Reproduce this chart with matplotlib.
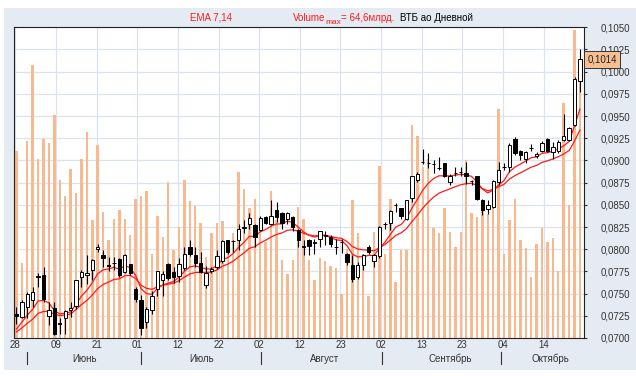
import matplotlib
matplotlib.use("Agg")
import matplotlib.pyplot as plt
import matplotlib.transforms as mtransforms
import matplotlib.patches as mpatches
import numpy as np

plt.rcParams['font.family'] = ['Liberation Sans', 'DejaVu Sans']

# ---------------- data ----------------
opens = [0.0727, 0.0724, 0.0735, 0.0743, 0.0769, 0.0771, 0.0725, 0.0734, 0.0717, 0.0723,
         0.0732, 0.0736, 0.0769, 0.0771, 0.0777, 0.0800, 0.0793, 0.0782, 0.0785, 0.0789,
         0.0774, 0.0783, 0.0755, 0.0743, 0.0718, 0.0732, 0.0755, 0.0765, 0.0783, 0.0774,
         0.0770, 0.0779, 0.0803, 0.0793, 0.0785, 0.0760, 0.0775, 0.0780, 0.0787, 0.0810,
         0.0809, 0.0810, 0.0824, 0.0828, 0.0827, 0.0822, 0.0836, 0.0828, 0.0844, 0.0841,
         0.0834, 0.0836, 0.0822, 0.0804, 0.0810, 0.0807, 0.0812, 0.0815, 0.0814, 0.0803,
         0.0808, 0.0795, 0.0782, 0.0769, 0.0782, 0.0803, 0.0787, 0.0792, 0.0828, 0.0829,
         0.0850, 0.0846, 0.0834, 0.0858, 0.0878, 0.0898, 0.0897, 0.0896, 0.0892, 0.0897,
         0.0876, 0.0886, 0.0887, 0.0886, 0.0877, 0.0882, 0.0855, 0.0845, 0.0848, 0.0876,
         0.0893, 0.0893, 0.0924, 0.0911, 0.0902, 0.0914, 0.0905, 0.0911, 0.0924, 0.0910,
         0.0911, 0.0923, 0.0923, 0.0940, 0.0990]
highs = [0.0735, 0.0743, 0.0752, 0.0758, 0.0773, 0.0780, 0.0740, 0.0740, 0.0722, 0.0731,
         0.0741, 0.0765, 0.0777, 0.0793, 0.0789, 0.0806, 0.0799, 0.0791, 0.0791, 0.0790,
         0.0795, 0.0783, 0.0758, 0.0748, 0.0735, 0.0753, 0.0776, 0.0776, 0.0784, 0.0780,
         0.0790, 0.0803, 0.0810, 0.0803, 0.0797, 0.0781, 0.0780, 0.0799, 0.0810, 0.0810,
         0.0810, 0.0828, 0.0833, 0.0841, 0.0828, 0.0837, 0.0837, 0.0855, 0.0853, 0.0842,
         0.0842, 0.0837, 0.0823, 0.0810, 0.0812, 0.0812, 0.0820, 0.0820, 0.0816, 0.0812,
         0.0812, 0.0796, 0.0793, 0.0786, 0.0795, 0.0805, 0.0795, 0.0826, 0.0831, 0.0844,
         0.0852, 0.0847, 0.0855, 0.0883, 0.0887, 0.0913, 0.0908, 0.0901, 0.0904, 0.0897,
         0.0885, 0.0893, 0.0893, 0.0898, 0.0878, 0.0883, 0.0857, 0.0856, 0.0878, 0.0898,
         0.0897, 0.0920, 0.0926, 0.0912, 0.0911, 0.0918, 0.0910, 0.0922, 0.0925, 0.0921,
         0.0923, 0.0952, 0.0938, 0.0994, 0.1026]
lows = [0.0716, 0.0722, 0.0722, 0.0735, 0.0758, 0.0741, 0.0715, 0.0703, 0.0705, 0.0705,
        0.0724, 0.0733, 0.0758, 0.0761, 0.0765, 0.0797, 0.0780, 0.0776, 0.0777, 0.0769,
        0.0773, 0.0771, 0.0741, 0.0703, 0.0711, 0.0727, 0.0747, 0.0747, 0.0765, 0.0762,
        0.0763, 0.0777, 0.0792, 0.0780, 0.0773, 0.0756, 0.0773, 0.0778, 0.0784, 0.0795,
        0.0797, 0.0799, 0.0818, 0.0823, 0.0803, 0.0821, 0.0828, 0.0827, 0.0831, 0.0823,
        0.0828, 0.0821, 0.0803, 0.0793, 0.0793, 0.0795, 0.0803, 0.0805, 0.0803, 0.0795,
        0.0796, 0.0782, 0.0763, 0.0767, 0.0777, 0.0795, 0.0780, 0.0790, 0.0823, 0.0822,
        0.0842, 0.0834, 0.0833, 0.0853, 0.0876, 0.0896, 0.0891, 0.0886, 0.0889, 0.0881,
        0.0872, 0.0882, 0.0882, 0.0874, 0.0872, 0.0855, 0.0838, 0.0840, 0.0847, 0.0872,
        0.0889, 0.0887, 0.0906, 0.0901, 0.0897, 0.0911, 0.0903, 0.0910, 0.0909, 0.0902,
        0.0908, 0.0922, 0.0922, 0.0939, 0.0977]
closes = [0.0725, 0.0741, 0.0750, 0.0752, 0.0770, 0.0744, 0.0731, 0.0705, 0.0716, 0.0730,
          0.0734, 0.0765, 0.0774, 0.0773, 0.0788, 0.0803, 0.0790, 0.0781, 0.0785, 0.0771,
          0.0793, 0.0773, 0.0744, 0.0711, 0.0733, 0.0747, 0.0775, 0.0772, 0.0768, 0.0769,
          0.0783, 0.0795, 0.0795, 0.0785, 0.0774, 0.0773, 0.0778, 0.0792, 0.0809, 0.0797,
          0.0809, 0.0823, 0.0825, 0.0835, 0.0814, 0.0835, 0.0830, 0.0837, 0.0836, 0.0829,
          0.0841, 0.0825, 0.0810, 0.0803, 0.0804, 0.0808, 0.0820, 0.0816, 0.0806, 0.0803,
          0.0808, 0.0786, 0.0766, 0.0782, 0.0793, 0.0797, 0.0793, 0.0825, 0.0828, 0.0843,
          0.0850, 0.0837, 0.0855, 0.0882, 0.0885, 0.0898, 0.0897, 0.0896, 0.0892, 0.0882,
          0.0883, 0.0886, 0.0887, 0.0882, 0.0877, 0.0857, 0.0844, 0.0850, 0.0877, 0.0889,
          0.0893, 0.0917, 0.0908, 0.0906, 0.0910, 0.0914, 0.0907, 0.0920, 0.0911, 0.0915,
          0.0921, 0.0927, 0.0936, 0.0992, 0.1014]
volumes_bln = [39.2, 15.8, 41.3, 57.3, 37.5, 41.7, 40.9, 46.7, 33.1, 29.7,
               35.4, 30.3, 37.5, 43.1, 24.7, 40.5, 26.4, 20.5, 25.0, 26.9,
               25.0, 21.6, 29.2, 29.7, 30.9, 17.5, 25.5, 21.2, 32.7, 18.4,
               23.3, 33.1, 28.8, 27.6, 24.0, 17.0, 21.9, 24.2, 24.6, 20.5,
               21.9, 34.8, 31.3, 27.2, 29.2, 23.9, 20.2, 30.9, 24.7, 16.3,
               13.4, 16.3, 27.4, 24.9, 16.3, 12.1, 16.7, 16.2, 15.1, 14.6,
               9.2, 18.6, 28.9, 21.9, 17.7, 8.8, 22.3, 36.0, 17.7, 29.1,
               11.8, 18.4, 18.4, 44.7, 42.3, 35.9, 37.6, 23.0, 21.9, 27.2,
               22.3, 19.1, 22.3, 37.3, 26.2, 25.4, 26.8, 26.0, 27.2, 47.9,
               17.5, 24.7, 29.1, 20.5, 18.9, 12.7, 19.8, 23.0, 20.2, 21.0,
               14.0, 49.3, 27.9, 64.6, 56.0]
# EMA values in force just before the first visible bar
ema_seed = {7: 0.0705, 14: 0.0704}

day_tick_labels = ["28", "09", "21", "01", "12", "22", "02", "12", "23", "02", "13", "23", "04", "14"]
day_tick_step = 7.5
day_tick_start = -0.2
month_names = ["Июнь", "Июль", "Август", "Сентябрь", "Октябрь"]
month_start_bars = [2.0, 23.0, 45.2, 67.5, 89.4]
month_label_bars = [12.6, 34.1, 56.8, 80.0, 98.5]
price_ticks = [0.0700 + 0.0025 * k for k in range(15)]
last_price = 0.1014
volume_max_text = "64,6млрд."

# ---------------- figure ----------------
W, H = 636, 376
fig = plt.figure(figsize=(W / 100, H / 100), dpi=100)
fig.patch.set_facecolor('white')
# light panel behind the chart
panel = mpatches.Rectangle((4 / W, 6 / H), (W - 4) / W, (H - 14) / H,
                           transform=fig.transFigure, fc='#E5EBF2', ec='none', zorder=-10)
fig.patches.append(panel)

L_px, R_px, T_px, B_px = 14, 584, 27.3, 338
pos = [L_px / W, 1 - B_px / H, (R_px - L_px) / W, (B_px - T_px) / H]

n = len(closes)
x = np.arange(n)
xlim = (-0.45, 104.75)
ylim = (0.0700, 0.1050)
tick_pos = [day_tick_start + day_tick_step * k for k in range(len(day_tick_labels))]

# layer 1: background + grid
axg = fig.add_axes(pos, zorder=1)
axg.set_facecolor('white')
axg.set_xlim(xlim)
axg.set_ylim(ylim)
for t in tick_pos:
    axg.axvline(t, color='#DCE3EE', lw=0.9, zorder=0)
for p in price_ticks:
    axg.axhline(p, color='#DCE3EE', lw=0.9, zorder=0)
axg.tick_params(bottom=False, left=False, labelbottom=False, labelleft=False)
for s in axg.spines.values():
    s.set_visible(False)

# layer 2: volume
axv = fig.add_axes(pos, zorder=2)
axv.patch.set_alpha(0)
axv.bar(x, volumes_bln, width=0.45, color='#F9B88E', zorder=1)
axv.set_xlim(xlim)
axv.set_ylim(0, 65.1)
axv.axis('off')

# layer 3: price
ax = fig.add_axes(pos, zorder=3)
ax.patch.set_alpha(0)
ax.set_ylim(ylim)
ax.set_xlim(xlim)


def ema(vals, span, seed):
    a = 2.0 / (span + 1)
    out = []
    e = seed
    for v in vals:
        e = e + a * (v - e)
        out.append(e)
    return out


ax.plot(x, ema(closes, 7, ema_seed[7]), color='#FF1A1A', lw=0.9, zorder=2)
ax.plot(x, ema(closes, 14, ema_seed[14]), color='#FF1A1A', lw=0.9, zorder=2)

o = np.array(opens); c = np.array(closes)
up = c >= o
ax.vlines(x, lows, highs, color='black', lw=0.8, zorder=3)
body_bottom = np.minimum(o, c)
body_h = np.abs(c - o)
ax.bar(x[up], body_h[up], bottom=body_bottom[up], width=0.62,
       facecolor='white', edgecolor='black', lw=0.7, zorder=4)
ax.bar(x[~up], body_h[~up], bottom=body_bottom[~up], width=0.62,
       facecolor='black', edgecolor='black', lw=0.7, zorder=4)

for s in ax.spines.values():
    s.set_color('#222222')
    s.set_linewidth(0.8)

ax.yaxis.tick_right()
ax.set_yticks(price_ticks)
ax.set_yticklabels([f"{p:.4f}".replace('.', ',') for p in price_ticks])
ax.tick_params(axis='y', length=2, pad=10, labelsize=7, colors='#333333')
ax.set_xticks(tick_pos)
ax.set_xticklabels(day_tick_labels)
ax.tick_params(axis='x', length=0, pad=1.5, labelsize=7, colors='#333333')

# price box
blend = mtransforms.blended_transform_factory(ax.transAxes, ax.transData)
ax.text(1.006, last_price, f"{last_price:.4f}".replace('.', ','), transform=blend,
        fontsize=7, va='center', ha='left', color='#222222', zorder=10,
        bbox=dict(boxstyle='square,pad=0.35', fc='#F8BF93', ec='#333333', lw=0.7))

# month row
bl = mtransforms.blended_transform_factory(ax.transData, ax.transAxes)
for xb in month_start_bars:
    ax.plot([xb, xb], [-0.045, -0.083], color='#333333', lw=0.8, transform=bl, clip_on=False)
for xb, name in zip(month_label_bars, month_names):
    ax.text(xb, -0.066, name, transform=bl, fontsize=7, ha='center', va='center', color='#333333')

# title
red = '#FF1A1A'
ty = 1 - 18 / H
fig.text(211 / W, ty, "EMA 7,14", color=red, fontsize=7, ha='center', va='center')
t1 = fig.text(293 / W, ty, "Volume", color=red, fontsize=7, ha='left', va='center')
t2 = ax.annotate("max", xy=(1, 0.35), xycoords=t1, fontsize=6, color=red, ha='left', va='top')
t3 = ax.annotate("= " + volume_max_text, xy=(1, 0.5), xycoords=(t2, t1), fontsize=7, color=red,
                 ha='left', va='center')
ax.annotate("ВТБ ао Дневной", xy=(1, 0.5), xycoords=t3, xytext=(4, 0), textcoords='offset points',
            fontsize=7, color='black', ha='left', va='center')

fig.savefig('out.png', dpi=100, facecolor=fig.get_facecolor())
